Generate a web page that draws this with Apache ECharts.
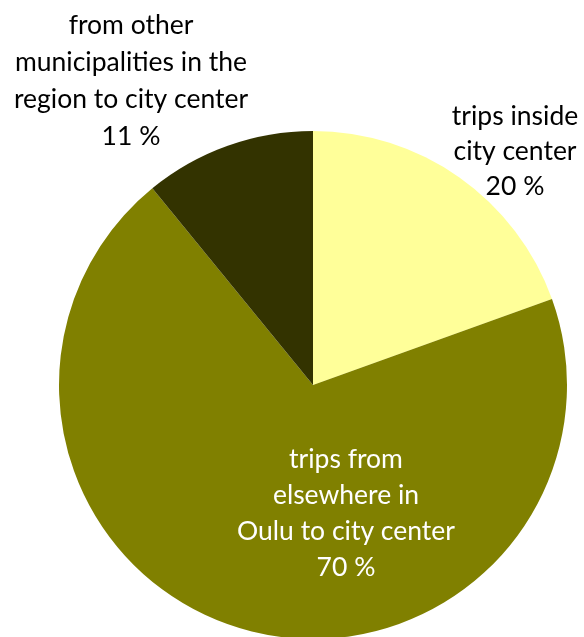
<!DOCTYPE html>
<html>
<head>
<meta charset="utf-8">
<script src="https://cdn.jsdelivr.net/npm/echarts@6/dist/echarts.min.js"></script>
<style>
  html, body { margin: 0; padding: 0; background: #fff; }
  #chart { width: 584px; height: 637px; }
</style>
</head>
<body>
<div id="chart"></div>
<script>
// slice names, shares and the printed percent labels
const categories = [
  'trips inside\ncity center',
  'trips from\nelsewhere in\nOulu to city center',
  'from other\nmunicipalities in the\nregion to city center'
]
const shares = [19.5, 69.6, 10.9]
const pctLabels = ['20 %', '70 %', '11 %']
const colors = ['#FFFF99', '#808000', '#333300']

// label anchor points (centre of each text block)
const labelPos = [
  { x: 515, y: 151 },
  { x: 346, y: 513 },
  { x: 131, y: 81 }
]

const chart = echarts.init(document.getElementById('chart'))

const option = {
  animation: false,
  series: [
    {
      type: 'pie',
      center: [313, 385],
      radius: 254,
      startAngle: 90,
      clockwise: true,
      avoidLabelOverlap: false,
      labelLine: { show: false },
      label: {
        show: true,
        position: 'outside',
        fontFamily: 'Lato',
        fontSize: 26.5,
        lineHeight: 37,
        color: '#000',
        align: 'center',
        formatter: (p) => `${p.name}\n${pctLabels[p.dataIndex]}`
      },
      labelLayout: (params) => ({
        x: labelPos[params.dataIndex].x,
        y: labelPos[params.dataIndex].y,
        align: 'center',
        verticalAlign: 'middle'
      }),
      itemStyle: { borderWidth: 0 },
      emphasis: { disabled: true },
      data: categories.map((name, i) => ({
        name,
        value: shares[i],
        itemStyle: { color: colors[i] },
        label: i === 0 ? { lineHeight: 35 } : (i === 1 ? { color: '#fff', lineHeight: 36 } : undefined)
      }))
    }
  ]
}

chart.setOption(option)
</script>
</body>
</html>
